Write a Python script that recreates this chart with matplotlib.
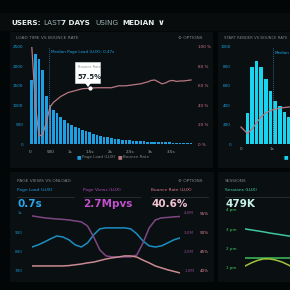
import numpy as np
import matplotlib
matplotlib.use("Agg")
import matplotlib.pyplot as plt
from matplotlib.patches import Rectangle, Polygon
from matplotlib.lines import Line2D

# ---- data ----
page_load_counts = [1650, 2320, 2190, 1900, 1240, 1000, 880, 790, 700, 620,
                    550, 490, 440, 400, 360, 330, 300, 265, 235, 200,
                    185, 170, 150, 138, 126, 115, 105, 97, 90, 82,
                    76, 70, 64, 58, 54, 50, 46, 42, 39, 36,
                    33, 30, 28, 26, 25]
bounce_by_load = [100, 40, 8, 10, 22, 38, 43, 46, 49, 51,
                  53, 54, 55, 56, 57, 57.2, 57.5, 57.8, 58, 58,
                  58, 58, 58, 59, 60, 60, 60, 60.5, 61, 61.5,
                  62, 63, 64, 65.5, 66, 64, 62, 63, 65, 65.5,
                  64.5, 65, 65, 65.5, 66]
load_ticks = [0, 0.5, 1, 1.5, 2, 2.5, 3, 3.5]
load_tick_labels = ["0", "500", "1s", "1.5s", "2s", "2.5s", "3s", "3.5s"]
median_load = 0.47

start_render_s = [0.2, 0.35, 0.5, 0.65, 0.8, 0.95, 1.1, 1.25, 1.4, 1.55, 1.7, 1.85]
start_render_counts = [320, 794, 856, 794, 670, 546, 443, 392, 330, 278, 230, 190]
sr_bounce_s = [0.0, 0.2, 0.35, 0.5, 0.65, 0.8, 1.0, 1.25, 1.5, 1.75, 2.0]
sr_bounce = [17.5, 11, 15, 22, 28, 32, 35, 37, 38, 39, 40]
median_sr = 1.03

hours = list(range(25))
onload_ms = [824, 835, 850, 866, 881, 876, 861, 835, 824, 845, 887, 918, 923,
             923, 923, 923, 918, 892, 855, 830, 824, 830, 845, 861, 871]
page_views_m = [3.85, 3.80, 3.75, 3.72, 3.69, 3.67, 3.64, 3.59, 3.54, 3.33, 2.76,
                2.09, 1.78, 1.73, 1.73, 1.73, 1.73, 1.83, 2.45, 3.23, 3.64, 3.75,
                3.77, 3.80, 3.82]
bounce_pct = [41.3, 41.3, 41.3, 41.3, 41.3, 41.3, 41.4, 41.6, 41.8, 42.1, 42.3,
              42.7, 43.1, 43.4, 43.6, 43.9, 43.9, 43.6, 42.8, 42.1, 41.3, 40.8,
              40.3, 39.9, 39.5]

sess_x = list(range(9))
sessions_a = [3.02, 2.97, 2.92, 2.87, 2.81, 2.76, 2.71, 2.66, 2.61]
sessions_b = [1.52] * 9
sessions_c = [1.10, 1.26, 1.39, 1.47, 1.47, 1.41, 1.31, 1.16, 1.0]

# ---- colours ----
BG = "#030606"
PANEL = "#0a0f11"
BLUE = "#1d9fe2"
PINK = "#b87882"
CYAN = "#18d4ee"
PURPLE = "#7e4784"
LBLUE = "#1a8fc2"
GRAY = "#7c8688"

W = H = 290
fig = plt.figure(figsize=(2.9, 2.9), dpi=100, facecolor=BG)


def box(x0, y0, x1, y1):
    return [x0 / W, 1 - y1 / H, (x1 - x0) / W, (y1 - y0) / H]


def txt(x, y, s, **kw):
    kw.setdefault("va", "center")
    fig.text(x / W, 1 - y / H, s, **kw)


def panel(x0, y0, x1, y1, c=PANEL):
    fig.add_artist(Rectangle((x0 / W, 1 - y1 / H), (x1 - x0) / W, (y1 - y0) / H,
                             transform=fig.transFigure, fc=c, ec="none", zorder=0))


def hline(x0, x1, y, c="#2a3235", lw=0.6):
    fig.add_artist(Line2D([x0 / W, x1 / W], [1 - y / H, 1 - y / H],
                          transform=fig.transFigure, color=c, lw=lw))


def clean(ax):
    ax.set_facecolor("none")
    for s in ax.spines.values():
        s.set_visible(False)
    ax.tick_params(length=0, labelsize=3)


# background panels
panel(0, 13, 290, 31, "#080c0d")
panel(10, 32, 213, 168)
panel(218, 32, 292, 168)
panel(10, 172, 214, 282)
panel(218, 172, 292, 282)

# header
tk = dict(fontsize=5.2, fontweight="bold")
txt(11, 23, "USERS:", color="#e8eeee", **tk)
txt(43, 23, "LAST", color="#9fb2b2", fontsize=5.2)
txt(61, 23, "7 DAYS", color="#e8eeee", **tk)
txt(95, 23, "USING", color="#9fb2b2", fontsize=5.2)
txt(122, 23, "MEDIAN", color="#e8eeee", **tk)
txt(158, 22.5, "∨", color="#e8eeee", fontsize=6, fontweight="bold")

# ---- panel 1: load time vs bounce rate ----
txt(16, 38, "LOAD TIME VS BOUNCE RATE", color=GRAY, fontsize=3.2)
txt(178, 38, "⚙ OPTIONS", color=GRAY, fontsize=3.2)

load_x = 0.045 + 0.09 * np.arange(len(page_load_counts))
ax1 = fig.add_axes(box(29, 47, 194, 144))
clean(ax1)
ax1.bar(load_x, page_load_counts, width=0.066, color=BLUE, zorder=2)
ax1.set_xlim(-0.025, 4.08)
ax1.set_ylim(0, 2500)
ax1.set_yticks([0, 500, 1000, 1500, 2000, 2500])
ax1.tick_params(axis="y", colors=BLUE, pad=4)
ax1.set_xticks(load_ticks)
ax1.set_xticklabels(load_tick_labels)
ax1.tick_params(axis="x", colors="#a0aaaa", pad=4)
ax1.axvline(median_load, color="#2b5d8a", lw=0.7, ls=(0, (1, 1)), zorder=3)
ax1.text(median_load + 0.06, 2380, "Median Page Load (LUX): 0.47s",
         color=BLUE, fontsize=3, va="center")

ax1r = ax1.twinx()
clean(ax1r)
ax1r.plot(load_x, bounce_by_load, color=PINK, lw=0.9, zorder=4)
ax1r.set_ylim(0, 100)
ax1r.set_yticks([0, 20, 40, 60, 80, 100])
ax1r.set_yticklabels(["0 %", "20 %", "40 %", "60 %", "80 %", "100 %"])
ax1r.tick_params(axis="y", colors="#d07a88", pad=3)
ax1r.plot(load_x[16], bounce_by_load[16], "o", ms=2, color="white", zorder=5)

# tooltip
fig.add_artist(Rectangle((75 / W, 1 - 83 / H), 25 / W, 21 / H, transform=fig.transFigure,
                         fc="white", ec="#cfd8d8", lw=0.5, zorder=6))
fig.add_artist(Polygon([[85 / W, 1 - 83 / H], [91 / W, 1 - 83 / H], [88 / W, 1 - 87 / H]],
                       transform=fig.transFigure, fc="white", ec="none", zorder=6))
fig.text(78 / W, 1 - 67 / H, "Bounce Rate", color="#8a9494", fontsize=2.6,
         va="center", zorder=7)
fig.text(78 / W, 1 - 77 / H, "57.5%", color="#1a2428", fontsize=5, fontweight="bold",
         va="center", zorder=7)

# legend
txt(77, 157, "■", color=BLUE, fontsize=3.5)
txt(82, 157, "Page Load (LUX)", color=GRAY, fontsize=3)
txt(118, 157, "■", color=PINK, fontsize=3.5)
txt(123, 157, "Bounce Rate", color=GRAY, fontsize=3)

# ---- panel 2: start render vs bounce rate ----
txt(224, 38, "START RENDER VS BOUNCE RATE", color=GRAY, fontsize=2.7)
ax2 = fig.add_axes(box(238, 47, 318, 144))
clean(ax2)
ax2.bar(start_render_s, start_render_counts, width=0.11, color=CYAN, zorder=2)
ax2.set_xlim(-0.097, 2.48)
ax2.set_ylim(0, 1000)
ax2.set_yticks([0, 200, 400, 600, 800, 1000])
ax2.tick_params(axis="y", colors=BLUE, pad=5)
ax2.set_xticks([0, 1])
ax2.set_xticklabels(["0", "1s"])
ax2.tick_params(axis="x", colors="#a0aaaa", pad=2)
ax2.axvline(median_sr, color="#2b5d8a", lw=0.7, ls=(0, (1, 1)), zorder=3)
ax2.text(median_sr + 0.06, 940, "Median", color=BLUE, fontsize=3, va="center")
ax2r = ax2.twinx()
clean(ax2r)
ax2r.plot(sr_bounce_s, sr_bounce, color=PINK, lw=0.9, zorder=4)
ax2r.set_ylim(0, 100)
ax2r.set_yticks([])
txt(284, 157, "■", color=CYAN, fontsize=3.5)

# ---- panel 3: page views vs onload ----
txt(17, 181, "PAGE VIEWS VS ONLOAD", color=GRAY, fontsize=3.2)
txt(178, 181, "⚙ OPTIONS", color=GRAY, fontsize=3.2)
txt(17, 190, "Page Load (LUX)", color="#1f9be0", fontsize=3.2)
txt(83, 190, "Page Views (LUX)", color="#b04ab8", fontsize=3.2)
txt(151, 190, "Bounce Rate (LUX)", color="#e0788a", fontsize=3.2)
hline(17, 74, 196.5)
hline(83, 140, 196.5)
hline(151, 208, 196.5)
txt(17, 204, "0.7s", color="#2aa6ea", fontsize=7.5, fontweight="bold")
txt(83, 204, "2.7Mpvs", color="#c050cc", fontsize=7.5, fontweight="bold")
txt(151, 204, "40.6%", color="#f2c4d2", fontsize=7.5, fontweight="bold")

ax3 = fig.add_axes(box(32, 210, 180, 276))
clean(ax3)
ax3.plot(hours, onload_ms, color=LBLUE, lw=1.1)
ax3.set_xlim(0, 24)
ax3.set_ylim(674, 1015.5)
ax3.set_yticks([700, 800, 900, 1000])
ax3.set_yticklabels(["700", "800", "900", "1s"])
ax3.tick_params(axis="y", colors=LBLUE, pad=7)
ax3.set_xticks([])

ax3b = ax3.twinx()
clean(ax3b)
ax3b.plot(hours, page_views_m, color=PURPLE, lw=1.1)
ax3b.set_ylim(0.741, 4.155)
ax3b.set_yticks([1, 2, 3, 4])
ax3b.set_yticklabels(["1.0M", "2.0M", "3.0M", "4.0M"])
ax3b.tick_params(axis="y", colors="#8a4a92", pad=3)

ax3c = ax3.twinx()
clean(ax3c)
ax3c.plot(hours, bounce_pct, color="#c98a92", lw=1.1)
ax3c.set_ylim(38.70, 55.78)
ax3c.set_yticks([40, 45, 50, 55])
ax3c.set_yticklabels(["40%", "45%", "50%", "55%"])
ax3c.tick_params(axis="y", colors="#e08c98", pad=14)

# ---- panel 4: sessions ----
txt(225, 181, "SESSIONS", color=GRAY, fontsize=3.2)
txt(225, 190, "Sessions (LUX)", color="#3fd4a2", fontsize=3.2)
hline(225, 292, 196.5)
txt(225, 204, "479K", color="#c8f2e6", fontsize=7.5, fontweight="bold")

ax4 = fig.add_axes(box(245, 207, 319, 275))
clean(ax4)
ax4.plot(sess_x, sessions_a, color="#3ec6a0", lw=1.1)
ax4.plot(sess_x, sessions_b, color="#3fc05c", lw=1.1)
ax4.plot(sess_x, sessions_c, color="#a2c43c", lw=1.1)
ax4.set_xlim(0, 12)
ax4.set_ylim(0.637, 4.155)
ax4.set_yticks([1, 2, 3, 4])
ax4.set_yticklabels(["1 pm", "2 pm", "3 pm", "4 pm"])
ax4.tick_params(axis="y", colors="#3fcf6a", pad=6)
ax4.set_xticks([])

fig.savefig("out.png", dpi=100, facecolor=BG)
